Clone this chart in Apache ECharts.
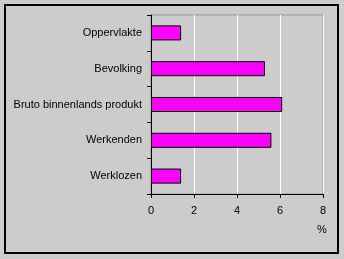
<!DOCTYPE html>
<html>
<head>
<meta charset="utf-8">
<style>
  html, body { margin: 0; padding: 0; background: #cccccc; }
  #main { width: 344px; height: 259px; }
</style>
<script src="https://cdn.jsdelivr.net/npm/echarts@6/dist/echarts.min.js"></script>
</head>
<body>
<div id="main"></div>
<script>
// categorieen van boven naar onder
const categories = ['Oppervlakte', 'Bevolking', 'Bruto binnenlands produkt', 'Werkenden', 'Werklozen']
const values = [1.4, 5.3, 6.1, 5.6, 1.4]
const xTicks = [0, 2, 4, 6, 8]

const font = 'Liberation Sans, Arial, sans-serif'
const myChart = echarts.init(document.getElementById('main'), null, { renderer: 'canvas' })

const option = {
  backgroundColor: '#cccccc',
  animation: false,
  grid: {
    left: 151,
    top: 15,
    width: 172,
    height: 179,
    show: true,
    borderColor: '#999999',
    borderWidth: 1,
    backgroundColor: 'transparent'
  },
  xAxis: {
    type: 'value',
    min: xTicks[0],
    max: xTicks[xTicks.length - 1],
    interval: 2,
    axisLine: { show: true, lineStyle: { color: '#000', width: 1 } },
    axisTick: { show: true, length: 4, lineStyle: { color: '#000' } },
    axisLabel: { color: '#000', fontFamily: font, fontSize: 11, margin: 11 },
    splitLine: { show: true, lineStyle: { color: '#ffffff', width: 1 } }
  },
  yAxis: {
    type: 'category',
    inverse: true,
    data: categories,
    axisLine: { show: true, lineStyle: { color: '#000', width: 1 } },
    axisTick: { show: true, length: 4, lineStyle: { color: '#000' } },
    axisLabel: { color: '#000', fontFamily: font, fontSize: 11, margin: 9 },
    splitLine: { show: false }
  },
  series: [
    {
      type: 'bar',
      data: values,
      barWidth: '42%',
      itemStyle: { color: '#ff00ff', borderColor: '#000', borderWidth: 1 }
    }
  ],
  graphic: [
    {
      type: 'rect',
      shape: { x: 5, y: 5, width: 333, height: 248 },
      style: { fill: 'none', stroke: '#000', lineWidth: 2 },
      silent: true
    },
    {
      type: 'text',
      left: 317,
      top: 224,
      style: { text: '%', fill: '#000', font: '11px ' + font }
    }
  ]
}

myChart.setOption(option)
</script>
</body>
</html>
